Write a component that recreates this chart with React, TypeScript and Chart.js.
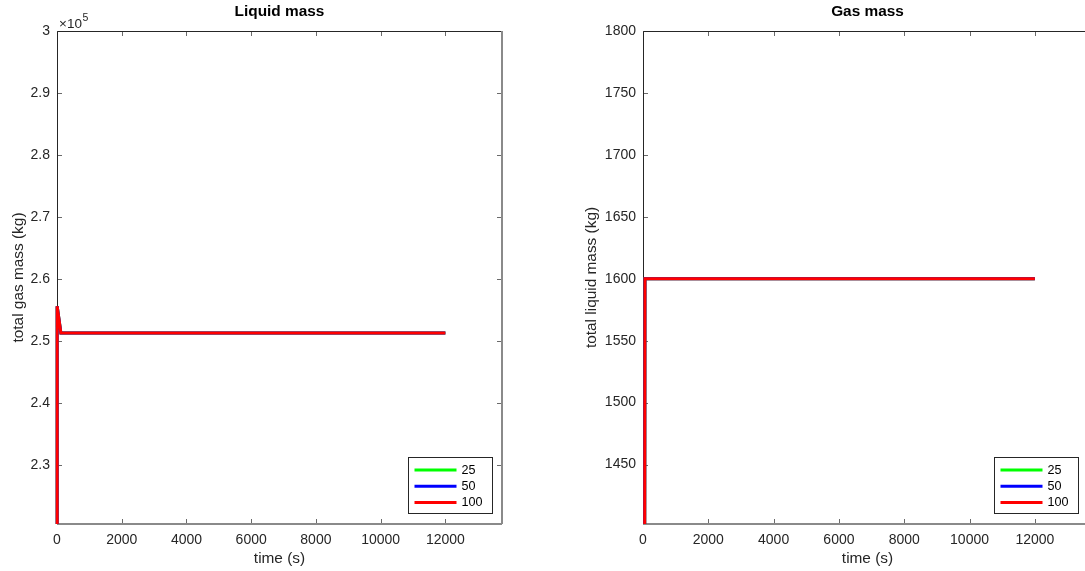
import React, { useEffect, useRef } from 'react';
import { Chart, registerables } from 'chart.js';

Chart.register(...registerables);

const FONT = '"Liberation Sans", Arial, Helvetica, sans-serif';

// ---- series ----
const SERIES_LABELS = ['25', '50', '100'];
const SERIES_COLORS = ['#00ff00', '#0000ff', '#ff0000'];

// Left panel (Liquid mass)
const LIQ_TIME = [0, 5, 120, 12000];
const LIQ_25 = [0, 255600, 251300, 251300];
const LIQ_50 = [0, 255600, 251300, 251300];
const LIQ_100 = [0, 255600, 251300, 251300];

// Right panel (Gas mass)
const GAS_TIME = [0, 60, 12000];
const GAS_25 = [0, 1600, 1600];
const GAS_50 = [0, 1600, 1600];
const GAS_100 = [0, 1600, 1600];

// ---- axes ----
const X_MIN = 0;
const X_MAX = 13750;
const X_TICKS = [0, 2000, 4000, 6000, 8000, 10000, 12000];
const X_TICK_LABELS = ['0', '2000', '4000', '6000', '8000', '10000', '12000'];

const LIQ_Y_MIN = 220480;
const LIQ_Y_MAX = 300000;
const LIQ_Y_TICKS = [230000, 240000, 250000, 260000, 270000, 280000, 290000, 300000];
const LIQ_Y_TICK_LABELS = ['2.3', '2.4', '2.5', '2.6', '2.7', '2.8', '2.9', '3'];

const GAS_Y_MIN = 1402;
const GAS_Y_MAX = 1800;
const GAS_Y_TICKS = [1450, 1500, 1550, 1600, 1650, 1700, 1750, 1800];
const GAS_Y_TICK_LABELS = ['1450', '1500', '1550', '1600', '1650', '1700', '1750', '1800'];

type PanelCfg = {
  title: string;
  xTitle: string;
  yTitle: string;
  time: number[];
  series: number[][];
  yMin: number;
  yMax: number;
  yTicks: number[];
  yTickLabels: string[];
  yAxisWidth: number;
  yTitlePad: number;
  padRight: number;
  exponent: boolean;
};

function makePlugin(cfg: PanelCfg) {
  return {
    id: 'matlabFrame',
    beforeDatasetsDraw(chart: any) {
      const { ctx, chartArea: a, scales } = chart;
      const L = Math.round(a.left);
      const R = Math.round(a.right);
      const T = Math.round(a.top);
      const B = Math.round(a.bottom);
      ctx.save();
      // inward ticks
      ctx.strokeStyle = '#6a6a6a';
      ctx.lineWidth = 1;
      const TL = 5;
      ctx.beginPath();
      for (const t of scales.y.ticks) {
        const y = Math.round(scales.y.getPixelForValue(t.value)) + 0.5;
        ctx.moveTo(L, y);
        ctx.lineTo(L + TL, y);
        ctx.moveTo(R, y);
        ctx.lineTo(R - TL, y);
      }
      for (const t of scales.x.ticks) {
        const x = Math.round(scales.x.getPixelForValue(t.value)) + 0.5;
        ctx.moveTo(x, B);
        ctx.lineTo(x, B - TL);
        ctx.moveTo(x, T);
        ctx.lineTo(x, T + TL);
      }
      ctx.stroke();
      // box: left & top crisp dark, right & bottom soft
      ctx.strokeStyle = '#262626';
      ctx.beginPath();
      ctx.moveTo(L + 0.5, B);
      ctx.lineTo(L + 0.5, T + 0.5);
      ctx.lineTo(R, T + 0.5);
      ctx.stroke();
      ctx.strokeStyle = '#8a8a8a';
      ctx.lineWidth = 2;
      ctx.beginPath();
      ctx.moveTo(L, B);
      ctx.lineTo(R, B);
      ctx.moveTo(R, T);
      ctx.lineTo(R, B);
      ctx.stroke();
      ctx.restore();
    },
    afterDraw(chart: any) {
      const { ctx, chartArea: a } = chart;
      ctx.save();
      // title
      ctx.fillStyle = '#000000';
      ctx.font = `bold 15.4px ${FONT}`;
      ctx.textAlign = 'center';
      ctx.textBaseline = 'alphabetic';
      ctx.fillText(cfg.title, (a.left + a.right) / 2, 16);
      // exponent
      if (cfg.exponent) {
        ctx.fillStyle = '#262626';
        ctx.textAlign = 'left';
        ctx.font = `13.5px ${FONT}`;
        const base = '\u00d710';
        ctx.fillText(base, a.left + 2, 27.5);
        const w = ctx.measureText(base).width;
        ctx.font = `10.5px ${FONT}`;
        ctx.fillText('5', a.left + 2 + w + 0.5, 21);
      }
      // legend
      const bx = Math.round(a.left + 351) + 0.5;
      const by = Math.round(a.bottom - 67) + 0.5;
      const bw = 84;
      const bh = 56;
      ctx.fillStyle = '#ffffff';
      ctx.fillRect(bx, by, bw, bh);
      ctx.strokeStyle = '#262626';
      ctx.lineWidth = 1;
      ctx.strokeRect(bx, by, bw, bh);
      ctx.font = `12.6px ${FONT}`;
      ctx.textAlign = 'left';
      ctx.textBaseline = 'middle';
      chart.data.datasets.forEach((ds: any, i: number) => {
        const y = by + 12.5 + i * 16.2;
        ctx.strokeStyle = ds.borderColor;
        ctx.lineWidth = 3;
        ctx.beginPath();
        ctx.moveTo(bx + 6, y);
        ctx.lineTo(bx + 48, y);
        ctx.stroke();
        ctx.fillStyle = '#000000';
        ctx.fillText(ds.label, bx + 53, y + 0.5);
      });
      ctx.restore();
    },
  };
}

function makeConfig(cfg: PanelCfg): any {
  const datasets = cfg.series.map((vals, i) => ({
    label: SERIES_LABELS[i],
    data: vals.map((v, j) => ({ x: cfg.time[j], y: v })),
    borderColor: SERIES_COLORS[i],
    backgroundColor: SERIES_COLORS[i],
    borderWidth: 3,
    pointRadius: 0,
    tension: 0,
    fill: false,
    clip: { left: 3, top: 3, right: 3, bottom: 0 },
    order: cfg.series.length - i,
  }));
  return {
    type: 'line',
    data: { datasets },
    options: {
      animation: false,
      responsive: false,
      devicePixelRatio: 1,
      layout: { padding: { left: 0, top: 31, right: cfg.padRight, bottom: 0 } },
      plugins: {
        legend: { display: false },
        title: { display: false },
        tooltip: { enabled: false },
      },
      scales: {
        x: {
          type: 'linear',
          min: X_MIN,
          max: X_MAX,
          grid: { display: false, drawTicks: false },
          border: { display: false },
          afterBuildTicks: (s: any) => {
            s.ticks = X_TICKS.map((v) => ({ value: v }));
          },
          afterFit: (s: any) => {
            s.height = 47;
          },
          ticks: {
            autoSkip: false,
            maxRotation: 0,
            padding: 7.6,
            color: '#262626',
            font: { family: FONT, size: 14 },
            callback: (_v: any, i: number) => X_TICK_LABELS[i],
          },
          title: {
            display: true,
            text: cfg.xTitle,
            color: '#262626',
            font: { family: FONT, size: 15.4 },
            padding: { top: 0, bottom: 2.76 },
          },
        },
        y: {
          type: 'linear',
          min: cfg.yMin,
          max: cfg.yMax,
          grid: { display: false, drawTicks: false },
          border: { display: false },
          afterBuildTicks: (s: any) => {
            s.ticks = cfg.yTicks.map((v) => ({ value: v }));
          },
          afterFit: (s: any) => {
            s.width = cfg.yAxisWidth;
          },
          ticks: {
            autoSkip: false,
            padding: 7,
            color: '#262626',
            font: { family: FONT, size: 14 },
            callback: (_v: any, i: number) => cfg.yTickLabels[i],
          },
          title: {
            display: true,
            text: cfg.yTitle,
            color: '#262626',
            font: { family: FONT, size: 15.4 },
            padding: { top: cfg.yTitlePad, bottom: 0 },
          },
        },
      },
    },
    plugins: [makePlugin(cfg)],
  };
}

function Panel({ cfg, left, width }: { cfg: PanelCfg; left: number; width: number }) {
  const ref = useRef<HTMLCanvasElement | null>(null);
  useEffect(() => {
    if (!ref.current) return;
    const chart = new Chart(ref.current, makeConfig(cfg));
    return () => chart.destroy();
  }, []);
  return (
    <canvas
      ref={ref}
      width={width}
      height={571}
      style={{ position: 'absolute', left, top: 0, width, height: 571, display: 'block' }}
    />
  );
}

const LEFT_CFG: PanelCfg = {
  title: 'Liquid mass',
  xTitle: 'time (s)',
  yTitle: 'total gas mass (kg)',
  time: LIQ_TIME,
  series: [LIQ_25, LIQ_50, LIQ_100],
  yMin: LIQ_Y_MIN,
  yMax: LIQ_Y_MAX,
  yTicks: LIQ_Y_TICKS,
  yTickLabels: LIQ_Y_TICK_LABELS,
  yAxisWidth: 57,
  yTitlePad: 9.76,
  padRight: 40,
  exponent: true,
};

const RIGHT_CFG: PanelCfg = {
  title: 'Gas mass',
  xTitle: 'time (s)',
  yTitle: 'total liquid mass (kg)',
  time: GAS_TIME,
  series: [GAS_25, GAS_50, GAS_100],
  yMin: GAS_Y_MIN,
  yMax: GAS_Y_MAX,
  yTicks: GAS_Y_TICKS,
  yTickLabels: GAS_Y_TICK_LABELS,
  yAxisWidth: 101,
  yTitlePad: 40.76,
  padRight: 10,
  exponent: false,
};

export default function App() {
  return (
    <div
      style={{
        position: 'fixed',
        left: 0,
        top: 0,
        width: 1085,
        height: 571,
        overflow: 'hidden',
        background: '#ffffff',
      }}
    >
      <Panel cfg={LEFT_CFG} left={0} width={542} />
      <Panel cfg={RIGHT_CFG} left={542} width={560} />
    </div>
  );
}
